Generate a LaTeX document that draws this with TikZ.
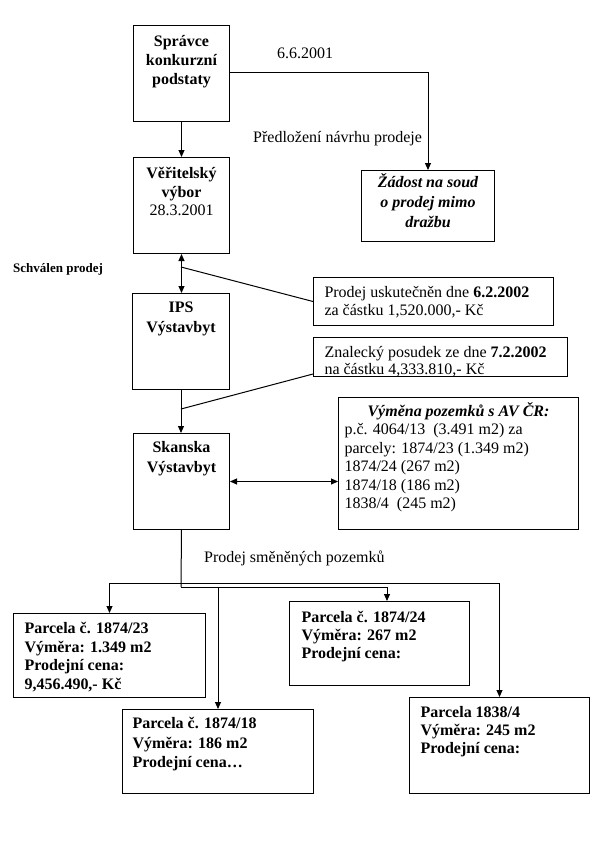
\documentclass[tikz,border=0pt]{standalone}
\usepackage{fontspec}
\setmainfont{Liberation Serif}
\usetikzlibrary{arrows.meta,calc}
\newcommand\tb[5]{\parbox[t][#2pt][t]{#1pt}{#3\rule{0pt}{#4pt}#5}}
\begin{document}
\begin{tikzpicture}[x=1pt,y=-1pt,
  box/.style={draw,line width=1pt,inner sep=0pt,anchor=north west,font=\fontsize{16}{19}\selectfont},
  lbl/.style={inner sep=0pt,anchor=base west,font=\fontsize{16}{19}\selectfont},
  ln/.style={line width=1pt},
  arr/.style={ln,-{Triangle[length=7pt,width=6pt]}},
  darr/.style={ln,{Triangle[length=7pt,width=6pt]}-{Triangle[length=7pt,width=6pt]}}]
\useasboundingbox (0,0) rectangle (593,855);
\fill[white] (0,0) rectangle (593,855);

\node[box] (sprava) at (133,25) {\tb{96}{96}{\centering\bfseries\baselineskip=19pt}{21}{Správce\\konkurzní\\podstaty}};
\node[box] (veritel) at (133,157) {\tb{96}{96}{\centering\baselineskip=18.5pt}{21}{\textbf{Věřitelský}\\\textbf{výbor}\\28.3.2001}};
\node[box] (zadost) at (361,170) {\tb{133}{71}{\centering\bfseries\itshape\baselineskip=20pt}{17}{Žádost na soud\\o prodej mimo\\dražbu}};
\node[box] (ips) at (132,293) {\tb{97}{96}{\centering\bfseries\baselineskip=20pt}{19}{IPS\\Výstavbyt}};
\node[box] (skanska) at (133,433) {\tb{96}{96}{\centering\bfseries\baselineskip=20pt}{19}{Skanska\\Výstavbyt}};
\node[box] (prodej) at (313,277) {\tb{240}{48}{\raggedright\leftskip=11pt\baselineskip=18pt}{20}{Prodej uskutečněn dne \textbf{6.2.2002}\\za částku 1,520.000,- Kč}};
\node[box] (znalec) at (313,337) {\tb{254}{39}{\raggedright\leftskip=11pt\baselineskip=17pt}{20}{Znalecký posudek ze dne \textbf{7.2.2002}\\na částku 4,333.810,- Kč}};
\node[box] (vymena) at (338,397) {\parbox[t][132pt][t]{240pt}{\baselineskip=18.4pt{\centering\rule{0pt}{19pt}\bfseries\itshape Výměna pozemků s AV ČR:\par}\raggedright\leftskip=6pt p.č. 4064/13\ \ (3.491 m2) za\\parcely: 1874/23 (1.349 m2)\\1874/24 (267 m2)\\1874/18 (186 m2)\\1838/4\ \ (245 m2)}};
\node[box] (p1) at (13,613) {\tb{192}{84}{\raggedright\bfseries\leftskip=11pt\baselineskip=18.5pt}{20}{Parcela č. 1874/23\\Výměra: 1.349 m2\\Prodejní cena:\\9,456.490,- Kč}};
\node[box] (p2) at (122,709) {\tb{191}{84}{\raggedright\bfseries\leftskip=10pt\baselineskip=19.5pt}{19}{Parcela č. 1874/18\\Výměra: 186 m2\\Prodejní cena…}};
\node[box] (p3) at (289,601) {\tb{180}{84}{\raggedright\bfseries\leftskip=12pt\baselineskip=18pt}{21}{Parcela č. 1874/24\\Výměra: 267 m2\\Prodejní cena:}};
\node[box] (p4) at (409,697) {\tb{180}{96}{\raggedright\bfseries\leftskip=11pt\baselineskip=18pt}{20}{Parcela 1838/4\\Výměra: 245 m2\\Prodejní cena:}};

\node[lbl] (t1) at (277,58) {6.6.2001};
\node[lbl] (t2) at (253,142) {Předložení návrhu prodeje};
\node[lbl,font=\fontsize{13}{15}\selectfont\bfseries] (t3) at (13,272) {Schválen prodej};
\node[lbl] (t4) at (204,562) {Prodej směněných pozemků};

\draw[arr] (sprava.south) -- (veritel.north);
\draw[arr] ($(sprava.north east)+(0,47)$) -| (zadost.north);
\draw[darr] (veritel.south) -- (veritel.south |- ips.north);
\draw[arr] (ips.south) -- (ips.south |- skanska.north);
\draw[darr] (skanska.east) -- (skanska.east -| vymena.west);
\coordinate (c1) at (181,267);
\coordinate (c2) at (181,409);
\draw[ln] (c1) -- (prodej.west);
\draw[ln] (c2) -- ($(znalec.south west)+(0,-3)$);
\coordinate (j1) at (181,583);
\coordinate (j2) at (181,587);
\coordinate (j3) at (218,587);
\draw[ln] (skanska.south) -- (j2);
\draw[arr] (j1) -| (p1.north);
\draw[arr] (j1) -| (p4.north);
\draw[arr] (j2) -| ($(p3.north west)+(98,0)$);
\draw[arr] (j3) -- (j3 |- p2.north);
\end{tikzpicture}
\end{document}
